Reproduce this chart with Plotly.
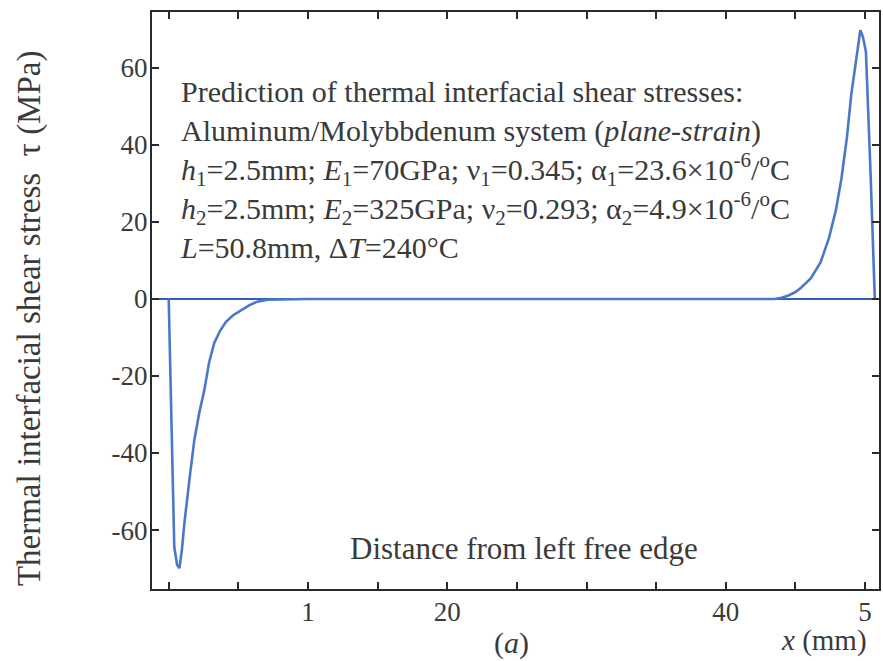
import plotly.graph_objects as go

# Distance from left free edge x (mm) and thermal interfacial shear stress tau (MPa)
x_mm = [0.0, 0.2, 0.4, 0.6, 0.77, 0.95, 1.13, 1.5, 1.84, 2.2, 2.56, 2.9, 3.27, 3.7, 4.1, 4.6, 5.18,
        5.8, 6.36, 7.08, 10.0, 20.0, 30.0, 40.0,
        43.5, 44.0, 44.5, 45.0, 45.4, 46.1, 46.8, 47.4, 47.9, 48.3, 48.7, 49.0, 49.35, 49.66,
        49.85, 50.06, 50.4, 50.7]
tau_mpa = [0.0, -35.0, -64.4, -69.0, -69.9, -65.0, -58.0, -46.5, -36.6, -29.5, -23.6, -16.5, -11.4,
           -8.2, -6.0, -4.3, -2.9, -1.6, -0.7, -0.2, 0.0, 0.0, 0.0, 0.0,
           0.0, 0.3, 0.9, 1.8, 2.9, 5.3, 9.5, 15.7, 23.0, 31.2, 42.0, 52.8, 62.0, 69.8,
           68.0, 64.2, 32.0, 0.0]

x_tickvals = [0, 5, 10, 15, 20, 25, 30, 35, 40, 45, 50]
x_ticktext = ["", "", "1", "", "20", "", "", "", "40", "", "5"]
y_tickvals = [-60, -40, -20, 0, 20, 40, 60]
y_ticktext = ["-60", "-40", "-20", "0", "20", "40", "60"]

info_lines = [
    "Prediction of thermal interfacial shear stresses:",
    "Aluminum/Molybbdenum system (<i>plane-strain</i>)",
    "<i>h</i><sub>1</sub>=2.5mm; <i>E</i><sub>1</sub>=70GPa; ν<sub>1</sub>=0.345; α<sub>1</sub>=23.6×10<sup>-6</sup>/<sup>o</sup>C",
    "<i>h</i><sub>2</sub>=2.5mm; <i>E</i><sub>2</sub>=325GPa; ν<sub>2</sub>=0.293; α<sub>2</sub>=4.9×10<sup>-6</sup>/<sup>o</sup>C",
    "<i>L</i>=50.8mm, Δ<i>T</i>=240°C",
]

FONT = "Liberation Serif, Times New Roman, serif"
TXT = "#3a3a3a"
AX = "#2a2a2a"

fig = go.Figure()
fig.add_trace(go.Scatter(x=x_mm, y=tau_mpa, mode="lines",
                         line=dict(color="#4a78c8", width=2.6), showlegend=False))

fig.update_layout(
    width=883, height=661,
    margin=dict(l=152, r=2, t=12, b=72),
    paper_bgcolor="white", plot_bgcolor="white",
    font=dict(family=FONT, color=TXT),
    xaxis=dict(range=[-1.2, 51.0], tickvals=x_tickvals, ticktext=x_ticktext,
               ticks="inside", ticklen=7, tickwidth=1.5, tickcolor=AX,
               showline=True, linecolor=AX, linewidth=2, mirror="ticks",
               showgrid=False, zeroline=False,
               tickfont=dict(size=27, family=FONT, color=TXT), ticklabelstandoff=-2),
    yaxis=dict(range=[-75.3, 74.5], tickvals=y_tickvals, ticktext=y_ticktext,
               ticks="inside", ticklen=7, tickwidth=1.5, tickcolor=AX,
               showline=True, linecolor=AX, linewidth=2, mirror="ticks",
               showgrid=False, zeroline=True, zerolinecolor="#2f5fb8", zerolinewidth=2.2,
               tickfont=dict(size=27, family=FONT, color=TXT), ticklabelstandoff=-3),
)

fig.add_annotation(xref="paper", yref="paper", x=0.036, y=0.8945, xanchor="left", yanchor="top",
                   align="left", showarrow=False, text="<br>".join(info_lines),
                   font=dict(size=30, family=FONT, color=TXT))
fig.add_annotation(xref="paper", yref="paper", x=-0.1674, y=0.47, textangle=-90,
                   xanchor="center", yanchor="middle",
                   showarrow=False, text="Thermal interfacial shear stress  τ (MPa)",
                   font=dict(size=33, family=FONT, color=TXT))
fig.add_annotation(xref="paper", yref="paper", x=0.512, y=0.071, xanchor="center", yanchor="middle",
                   showarrow=False, text="Distance from left free edge",
                   font=dict(size=31, family=FONT, color=TXT))
fig.add_annotation(xref="paper", yref="paper", x=0.494, y=-0.0936, xanchor="center", yanchor="middle",
                   showarrow=False, text="(<i>a</i>)", font=dict(size=30, family=FONT, color=TXT))
fig.add_annotation(xref="paper", yref="paper", x=0.9245, y=-0.090, xanchor="center", yanchor="middle",
                   showarrow=False, text="<i>x</i> (mm)", font=dict(size=29, family=FONT, color=TXT))

fig.write_html("out.html")
